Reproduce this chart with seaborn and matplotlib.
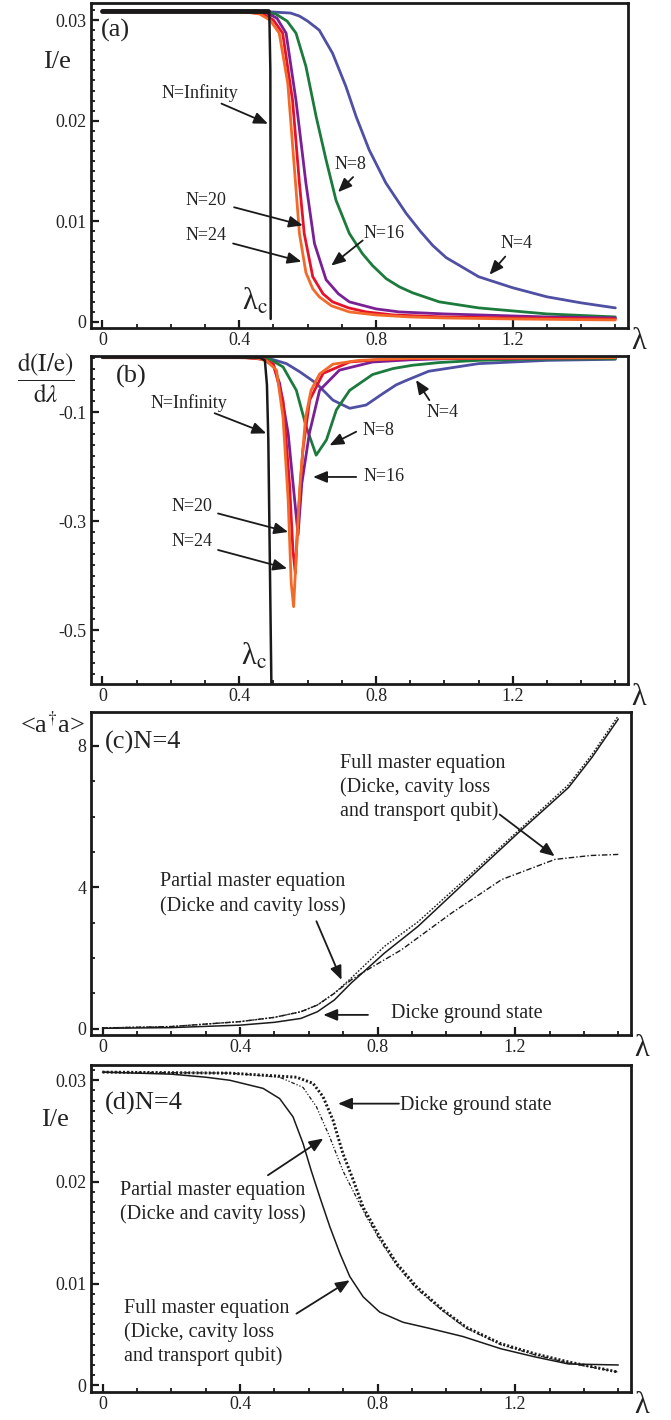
import matplotlib
matplotlib.use("Agg")
import matplotlib.pyplot as plt
import seaborn as sns
from matplotlib.ticker import FixedLocator, FixedFormatter, MultipleLocator

# ---------------- panel (a): I/e against lambda ----------------
lam_a4 = [0, 0.30, 0.45, 0.50, 0.55, 0.576, 0.60, 0.634, 0.673, 0.712, 0.742, 0.780, 0.829, 0.888,
          0.93, 0.966, 1.005, 1.10, 1.20, 1.30, 1.40, 1.50]
ie_a4 = [0.0309, 0.0309, 0.0309, 0.0308, 0.0307, 0.0304, 0.0299, 0.0290, 0.0267, 0.0234, 0.0204,
         0.0171, 0.0138, 0.0108, 0.0090, 0.0076, 0.0064, 0.0045, 0.0034, 0.0025, 0.0019, 0.0014]
lam_a8 = [0, 0.45, 0.507, 0.54, 0.566, 0.595, 0.625, 0.654, 0.683, 0.722, 0.76, 0.79, 0.83, 0.868,
          0.907, 0.985, 1.10, 1.30, 1.50]
ie_a8 = [0.0309, 0.0309, 0.0306, 0.0299, 0.0287, 0.0254, 0.0204, 0.0161, 0.0121, 0.0088, 0.0068,
         0.0056, 0.0043, 0.0035, 0.0029, 0.0020, 0.0014, 0.0008, 0.0005]
lam_a16 = [0, 0.40, 0.48, 0.51, 0.537, 0.566, 0.595, 0.620, 0.654, 0.69, 0.722, 0.80, 0.868, 1.0,
           1.1, 1.3, 1.5]
ie_a16 = [0.0309, 0.0309, 0.0307, 0.0302, 0.0287, 0.0220, 0.0138, 0.0078, 0.0042, 0.0028, 0.0020,
          0.0013, 0.0010, 0.0008, 0.0007, 0.0005, 0.0004]
lam_a20 = [0, 0.40, 0.47, 0.50, 0.527, 0.556, 0.576, 0.590, 0.615, 0.645, 0.673, 0.72, 0.771, 0.85,
           1.0, 1.2, 1.5]
ie_a20 = [0.0309, 0.0309, 0.0306, 0.0300, 0.0287, 0.0220, 0.0138, 0.0088, 0.0045, 0.0028, 0.0020,
          0.0014, 0.0010, 0.0007, 0.0005, 0.0004, 0.0003]
lam_a24 = [0, 0.40, 0.46, 0.49, 0.517, 0.542, 0.561, 0.576, 0.595, 0.615, 0.634, 0.67, 0.722, 0.80,
           0.90, 1.0, 1.2, 1.5]
ie_a24 = [0.0309, 0.0309, 0.0306, 0.0300, 0.0287, 0.0237, 0.0154, 0.0088, 0.0049, 0.0033, 0.0025,
          0.0016, 0.0010, 0.0007, 0.0005, 0.0004, 0.0003, 0.0002]
lam_ainf_top = [0, 0.485]
ie_ainf_top = [0.0309, 0.0309]
lam_ainf_drop = [0.48, 0.488, 0.491, 0.492]
ie_ainf_drop = [0.0309, 0.0306, 0.0250, 0.0003]

# ---------------- panel (b): d(I/e)/d lambda ----------------
lam_b4 = [0, 0.45, 0.49, 0.538, 0.577, 0.625, 0.674, 0.723, 0.771, 0.82, 0.859, 0.888, 0.954, 1.10,
          1.30, 1.5]
d_b4 = [0, 0, -0.002, -0.011, -0.026, -0.047, -0.078, -0.093, -0.087, -0.066, -0.050, -0.042,
        -0.025, -0.011, -0.005, -0.003]
lam_b8 = [0, 0.45, 0.49, 0.528, 0.567, 0.596, 0.625, 0.655, 0.684, 0.723, 0.79, 0.85, 0.907, 0.985,
          1.10, 1.24, 1.5]
d_b8 = [0, 0, -0.003, -0.017, -0.06, -0.127, -0.179, -0.151, -0.096, -0.06, -0.031, -0.02, -0.014,
        -0.009, -0.005, -0.003, -0.002]
lam_b16 = [0, 0.42, 0.47, 0.50, 0.518, 0.543, 0.562, 0.572, 0.583, 0.605, 0.635, 0.693, 0.79, 0.9,
           1.0, 1.5]
d_b16 = [0, 0, -0.003, -0.015, -0.047, -0.139, -0.261, -0.325, -0.231, -0.139, -0.06, -0.023,
         -0.008, -0.004, -0.002, 0]
lam_b20 = [0, 0.42, 0.47, 0.50, 0.528, 0.547, 0.557, 0.564, 0.572, 0.586, 0.606, 0.645, 0.723, 0.8,
           0.9, 1.5]
d_b20 = [0, 0, -0.002, -0.012, -0.079, -0.231, -0.353, -0.396, -0.292, -0.17, -0.078, -0.029,
         -0.008, -0.004, -0.002, 0]
lam_b24 = [0, 0.40, 0.45, 0.48, 0.509, 0.528, 0.543, 0.552, 0.559, 0.567, 0.578, 0.594, 0.61, 0.635,
           0.674, 0.75, 0.9, 1.5]
d_b24 = [0, 0, -0.001, -0.006, -0.023, -0.109, -0.261, -0.414, -0.457, -0.36, -0.23, -0.11, -0.06,
         -0.03, -0.012, -0.005, -0.001, 0]
lam_binf = [0, 0.46, 0.475, 0.481, 0.485, 0.494]
d_binf = [0, 0, -0.005, -0.05, -0.15, -0.60]

# ---------------- panel (c): <a+a>, N=4 ----------------
lam_c_dicke = [0, 0.2, 0.4, 0.5, 0.577, 0.625, 0.674, 0.723, 0.82, 0.917, 1.063, 1.209, 1.355,
               1.423, 1.50]
n_c_dicke = [0.01, 0.03, 0.10, 0.18, 0.29, 0.48, 0.81, 1.29, 2.14, 2.89, 4.22, 5.54, 6.82, 7.67, 8.76]
lam_c_partial = [0, 0.2, 0.4, 0.5, 0.577, 0.625, 0.674, 0.723, 0.82, 0.917, 1.063, 1.209, 1.355,
                 1.423, 1.50]
n_c_partial = [0.02, 0.06, 0.20, 0.32, 0.48, 0.67, 1.0, 1.43, 2.33, 3.02, 4.3, 5.6, 6.9, 7.75, 8.85]
lam_c_full = [0, 0.2, 0.4, 0.5, 0.577, 0.625, 0.674, 0.723, 0.771, 0.869, 1.015, 1.161, 1.316, 1.42,
              1.50]
n_c_full = [0.02, 0.06, 0.20, 0.32, 0.48, 0.67, 1.0, 1.38, 1.67, 2.23, 3.27, 4.22, 4.79, 4.9, 4.93]

# ---------------- panel (d): I/e, N=4 ----------------
lam_d_dicke = [0, 0.370, 0.564, 0.612, 0.641, 0.670, 0.699, 0.729, 0.758, 0.806, 0.855, 0.913,
               0.990, 1.058, 1.158, 1.257, 1.355, 1.50]
ie_d_dicke = [0.0308, 0.0307, 0.0303, 0.0297, 0.0284, 0.0261, 0.0228, 0.0202, 0.0175, 0.0146,
              0.0120, 0.0097, 0.0074, 0.0057, 0.0041, 0.0031, 0.0023, 0.0013]
lam_d_partial = [0, 0.370, 0.515, 0.583, 0.622, 0.661, 0.699, 0.738, 0.767, 0.806, 0.855, 0.913,
                 0.990, 1.058, 1.158, 1.257, 1.355, 1.50]
ie_d_partial = [0.0308, 0.0307, 0.0303, 0.0293, 0.0274, 0.0244, 0.0211, 0.0185, 0.0166, 0.0143,
                0.0118, 0.0095, 0.0073, 0.0056, 0.0040, 0.0030, 0.0022, 0.0013]
lam_d_full = [0, 0.2, 0.3, 0.370, 0.467, 0.515, 0.554, 0.583, 0.607, 0.632, 0.661, 0.690, 0.719,
              0.758, 0.806, 0.874, 0.951, 1.048, 1.158, 1.257, 1.355, 1.50]
ie_d_full = [0.0308, 0.0306, 0.0303, 0.0300, 0.0292, 0.0282, 0.0264, 0.0238, 0.0211, 0.0185,
             0.0156, 0.0130, 0.0107, 0.0087, 0.0072, 0.0062, 0.0056, 0.0048, 0.0036, 0.0028,
             0.0021, 0.0020]

x_ticks = [0, 0.4, 0.8, 1.2]
x_tick_labels = ["0", "0.4", "0.8", "1.2"]

sns.set_theme(style="ticks")
plt.rcParams["font.family"] = ["Liberation Serif", "DejaVu Serif"]
plt.rcParams["mathtext.fontset"] = "stix"

TXT = "#222222"
C4, C8, C16, C20, C24 = "#4f4fa3", "#1c7a3c", "#7a2095", "#e5122c", "#f26a2a"

fig = plt.figure(figsize=(6.71, 14.2), dpi=100)
ax_a = fig.add_axes([0.1349, 0.7690, 0.8010, 0.2289])
ax_b = fig.add_axes([0.1349, 0.5183, 0.8010, 0.2310])
ax_c = fig.add_axes([0.1349, 0.2711, 0.8055, 0.2275])
ax_d = fig.add_axes([0.1349, 0.0197, 0.8055, 0.2303])


def setup(ax, ylim, yticks, ylabels, yminor):
    ax.set_xlim(-0.035, 1.537)
    ax.set_ylim(*ylim)
    ax.xaxis.set_major_locator(FixedLocator(x_ticks))
    ax.xaxis.set_major_formatter(FixedFormatter(x_tick_labels))
    ax.xaxis.set_minor_locator(MultipleLocator(0.1))
    ax.yaxis.set_major_locator(FixedLocator(yticks))
    ax.yaxis.set_major_formatter(FixedFormatter(ylabels))
    ax.yaxis.set_minor_locator(MultipleLocator(yminor))
    ax.tick_params(which="both", direction="in", top=False, right=False, color="k",
                   labelsize=13, labelcolor=TXT, pad=3)
    ax.tick_params(which="major", length=6, width=1.6)
    ax.tick_params(which="minor", length=3, width=1.3)
    for s in ax.spines.values():
        s.set_linewidth(2.0)
        s.set_color("k")
    ax.set_xlabel("")
    ax.set_ylabel("")
    ax.text(1.02, -0.042, "λ", transform=ax.transAxes, fontsize=22,
            ha="center", va="center", color=TXT)


def note(ax, text, xy, tail=None, head=None, size=13, ha="center", ls=1.3):
    ax.text(xy[0], xy[1], text, fontsize=size, ha=ha, va="center", color=TXT,
            linespacing=ls)
    if tail is not None:
        ax.annotate("", xy=head, xytext=tail,
                    arrowprops=dict(arrowstyle="-|>,head_length=0.6,head_width=0.25",
                                    color="k", lw=1.3, mutation_scale=14,
                                    shrinkA=0, shrinkB=0))


def line(ax, x, y, color, lw, ls="-"):
    sns.lineplot(x=x, y=y, ax=ax, color=color, lw=lw, linestyle=ls,
                 sort=False, estimator=None)


# (a)
for x, y, c in [(lam_a4, ie_a4, C4), (lam_a8, ie_a8, C8), (lam_a16, ie_a16, C16),
                (lam_a20, ie_a20, C20), (lam_a24, ie_a24, C24)]:
    line(ax_a, x, y, c, 2.0)
line(ax_a, lam_ainf_top, ie_ainf_top, "k", 3.5)
line(ax_a, lam_ainf_drop, ie_ainf_drop, "k", 1.8)
setup(ax_a, (-0.0006, 0.0317), [0, 0.01, 0.02, 0.03], ["0", "0.01", "0.02", "0.03"], 0.001)
note(ax_a, "N=Infinity", (0.285, 0.0227), (0.348, 0.0217), (0.484, 0.0197))
note(ax_a, "N=20", (0.304, 0.0121), (0.385, 0.0114), (0.586, 0.0096))
note(ax_a, "N=24", (0.304, 0.0086), (0.382, 0.0078), (0.582, 0.0060))
note(ax_a, "N=8", (0.726, 0.0156), (0.733, 0.0144), (0.689, 0.0129))
note(ax_a, "N=16", (0.823, 0.0088), (0.761, 0.0081), (0.669, 0.0056))
note(ax_a, "N=4", (1.212, 0.0078), (1.178, 0.0065), (1.132, 0.0047))
ax_a.text(0.485, 0.0012, "λ$_{\\mathrm{c}}$", fontsize=22, ha="right", va="baseline", color=TXT)
ax_a.text(0.037, 0.0290, "(a)", fontsize=19, ha="center", va="center", color=TXT)
ax_a.text(-0.063, 0.818, "I/e", transform=ax_a.transAxes, fontsize=19, ha="center",
          va="center", color=TXT)

# (b)
for x, y, c in [(lam_b4, d_b4, C4), (lam_b8, d_b8, C8), (lam_b16, d_b16, C16),
                (lam_b20, d_b20, C20), (lam_b24, d_b24, C24)]:
    line(ax_b, x, y, c, 2.0)
line(ax_b, lam_binf, d_binf, "k", 1.8)
setup(ax_b, (-0.599, 0.003), [-0.5, -0.3, -0.1], ["-0.5", "-0.3", "-0.1"], 0.02)
note(ax_b, "N=Infinity", (0.254, -0.084), (0.328, -0.102), (0.479, -0.139))
note(ax_b, "N=20", (0.263, -0.274), (0.338, -0.286), (0.543, -0.320))
note(ax_b, "N=24", (0.263, -0.338), (0.338, -0.353), (0.540, -0.387))
note(ax_b, "N=8", (0.808, -0.133), (0.742, -0.136), (0.664, -0.161))
note(ax_b, "N=16", (0.823, -0.219), (0.742, -0.219), (0.616, -0.219))
note(ax_b, "N=4", (0.995, -0.101), (0.956, -0.078), (0.917, -0.041))
ax_b.text(0.480, -0.564, "λ$_{\\mathrm{c}}$", fontsize=22, ha="right", va="baseline", color=TXT)
ax_b.text(0.083, -0.034, "(b)", fontsize=19, ha="center", va="center", color=TXT)
ax_b.text(-0.083, 0.933, r"$\dfrac{\mathrm{d(I/e)}}{\mathrm{d}\lambda}$", transform=ax_b.transAxes,
          fontsize=18, ha="center", va="center", color=TXT)

# (c)
line(ax_c, lam_c_dicke, n_c_dicke, "k", 1.1)
line(ax_c, lam_c_partial, n_c_partial, "k", 1.0, (0, (1.2, 1.2)))
line(ax_c, lam_c_full, n_c_full, "k", 1.0, (0, (4, 1.5, 1, 1.5)))
setup(ax_c, (-0.18, 8.96), [0, 4, 8], ["0", "4", "8"], 1)
note(ax_c, "Full master equation\n(Dicke, cavity loss\nand transport qubit)", (0.69, 6.82),
     (1.155, 6.06), (1.315, 4.88), size=14.5, ha="left")
note(ax_c, "Partial master equation\n(Dicke and cavity loss)", (0.168, 3.81),
     (0.622, 3.04), (0.695, 1.38), size=14.5, ha="left")
note(ax_c, "Dicke ground state", (0.84, 0.44), (0.772, 0.39), (0.642, 0.39), size=14.5, ha="left")
ax_c.text(0.007, 8.1, "(c)N=4", fontsize=19, ha="left", va="center", color=TXT)
ax_c.text(-0.071, 0.96, "<a$^{\\dagger}$a>", transform=ax_c.transAxes,
          fontsize=19, ha="center", va="center", color=TXT)

# (d)
line(ax_d, lam_d_full, ie_d_full, "k", 1.1)
line(ax_d, lam_d_partial, ie_d_partial, "k", 0.9, (0, (3, 1.5, 1, 1.5, 1, 1.5)))
line(ax_d, lam_d_dicke, ie_d_dicke, "k", 2.1, (0, (0.7, 0.7)))
setup(ax_d, (-0.00066, 0.0315), [0, 0.01, 0.02, 0.03], ["0", "0.01", "0.02", "0.03"], 0.001)
note(ax_d, "Dicke ground state", (0.864, 0.0275), (0.862, 0.0277), (0.685, 0.0277), size=14.5, ha="left")
note(ax_d, "Partial master equation\n(Dicke and cavity loss)", (0.05, 0.0180),
     (0.481, 0.02066), (0.642, 0.02427), size=14.5, ha="left")
note(ax_d, "Full master equation\n(Dicke, cavity loss\nand transport qubit)", (0.062, 0.0052),
     (0.564, 0.00705), (0.719, 0.01033), size=14.5, ha="left")
ax_d.text(0.006, 0.0277, "(d)N=4", fontsize=19, ha="left", va="center", color=TXT)
ax_d.text(-0.066, 0.832, "I/e", transform=ax_d.transAxes, fontsize=19, ha="center",
          va="center", color=TXT)

fig.savefig("out.png", dpi=100)
